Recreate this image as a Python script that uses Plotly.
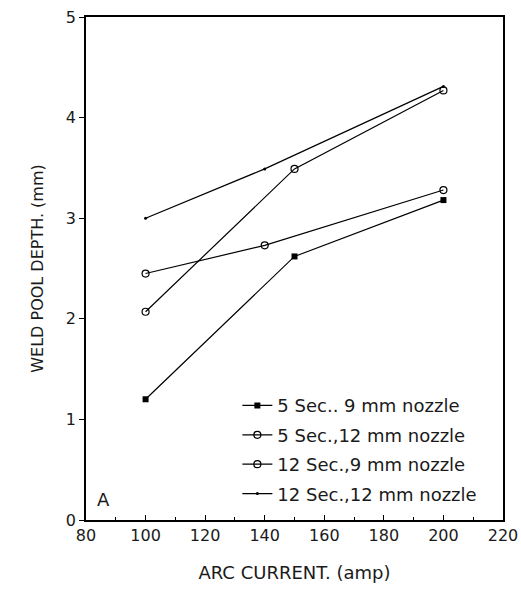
import plotly.graph_objects as go

# Data
x_5s_9mm = [100, 150, 200]
y_5s_9mm = [1.20, 2.62, 3.18]

x_5s_12mm = [100, 150, 200]
y_5s_12mm = [2.07, 3.49, 4.27]

x_12s_9mm = [100, 140, 200]
y_12s_9mm = [2.45, 2.73, 3.28]

x_12s_12mm = [100, 140, 200]
y_12s_12mm = [3.00, 3.49, 4.31]

names = ["5 Sec.. 9 mm nozzle", "5 Sec.,12 mm nozzle",
         "12 Sec.,9 mm nozzle", "12 Sec.,12 mm nozzle"]

x_ticks = [80, 100, 120, 140, 160, 180, 200, 220]
y_ticks = [0, 1, 2, 3, 4, 5]

FONT = "DejaVu Sans, Verdana, sans-serif"
INK = "#1a1a1a"

fig = go.Figure()
series = [
    (x_5s_9mm, y_5s_9mm, dict(symbol="square", size=6, color="black")),
    (x_5s_12mm, y_5s_12mm, dict(symbol="circle-open", size=7, color="black", line=dict(width=1.2))),
    (x_12s_9mm, y_12s_9mm, dict(symbol="circle-open", size=7, color="black", line=dict(width=1.2))),
    (x_12s_12mm, y_12s_12mm, dict(symbol="circle", size=3, color="black")),
]
for i, (xs, ys, mk) in enumerate(series):
    fig.add_trace(go.Scatter(
        x=xs, y=ys, mode="lines+markers", name=names[i],
        legendgroup=f"g{i}",
        line=dict(color="black", width=1.2), marker=mk,
    ))

fig.add_annotation(x=85.8, y=0.2, xref="x", yref="y", text="A", showarrow=False,
                   font=dict(family=FONT, size=18, color=INK))

axis_common = dict(
    showline=True, linecolor="black", linewidth=1.5, mirror=True,
    showgrid=False, zeroline=False, ticklen=5, automargin=False,
    tickcolor="black", tickfont=dict(family=FONT, size=16, color=INK),
)

fig.update_layout(
    width=521, height=589,
    margin=dict(l=86, r=18, t=17, b=69),
    paper_bgcolor="white", plot_bgcolor="white",
    font=dict(family=FONT, color=INK),
    xaxis=dict(range=[80, 220], tickvals=x_ticks, ticks="inside",
               title=dict(text="ARC CURRENT. (amp)", font=dict(family=FONT, size=18, color=INK), standoff=22),
               minor=dict(dtick=10, ticks="inside", ticklen=3, tickcolor="black"),
               **axis_common),
    yaxis=dict(range=[0, 5], tickvals=y_ticks, ticks="outside",
               title=dict(text="WELD POOL DEPTH. (mm)", font=dict(family=FONT, size=16, color=INK), standoff=18),
               **axis_common),
    legend=dict(x=0.363, y=0.264, xanchor="left", yanchor="top",
                font=dict(family=FONT, size=18, color=INK),
                bgcolor="rgba(0,0,0,0)", tracegroupgap=3, itemwidth=30),
    showlegend=True,
)

fig.write_html("out.html")
